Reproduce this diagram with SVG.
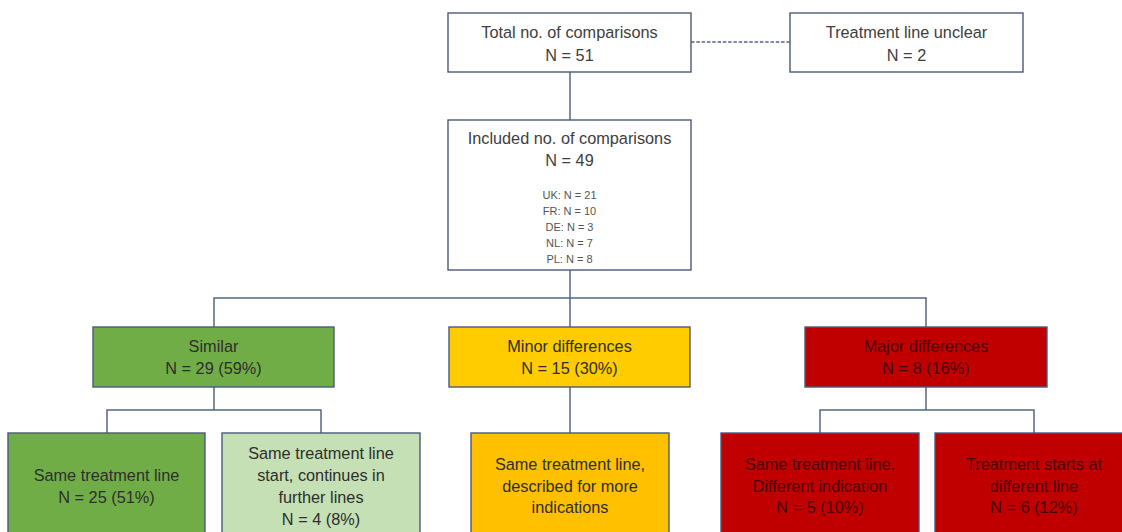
<svg xmlns="http://www.w3.org/2000/svg" width="1122" height="532" viewBox="0 0 1122 532">
<style>
.box{stroke:#4A5A7A;stroke-width:1.4}
.w{fill:#FFFFFF}
.g{fill:#70AD47}
.lg{fill:#C5E0B4}
.y{fill:#FFCC00}
.y2{fill:#FFC000}
.r{fill:#C00000}
text{font-family:"Liberation Sans",Arial,sans-serif;font-size:16.3px;text-anchor:middle;dominant-baseline:central;fill:#404040}
.dk text{fill:#2E2E2E}
.rd text{fill:#4A0000}
.sm{font-size:11px;fill:#555555}
.conn{fill:none;stroke:#56657F;stroke-width:1.5}
</style>
<rect width="1122" height="532" fill="#FFFFFF"/>
<g id="connectors">
<path class="conn" d="M570,72V120"/>
<path class="conn" d="M691,42H790" stroke="#2F4A7A" stroke-dasharray="3.5 1.8"/>
<path class="conn" d="M570,270V298M214,327V298H926V327M570,298V327"/>
<path class="conn" d="M214,387V410M107,433V410H321V433"/>
<path class="conn" d="M570,387V433"/>
<path class="conn" d="M926,387V410M820,433V410H1034V433"/>
</g>
<g id="total">
<rect class="box w" x="448" y="13" width="243" height="59"/>
<text x="569.5" y="32">Total no. of comparisons</text>
<text x="569.5" y="55">N = 51</text>
</g>
<g id="unclear">
<rect class="box w" x="790" y="13" width="233" height="59"/>
<text x="906.5" y="32">Treatment line unclear</text>
<text x="906.5" y="55">N = 2</text>
</g>
<g id="included">
<rect class="box w" x="448" y="120" width="243" height="150"/>
<text x="569.5" y="138">Included no. of comparisons</text>
<text x="569.5" y="160">N = 49</text>
<text class="sm" x="569.5" y="195">UK: N = 21</text>
<text class="sm" x="569.5" y="211">FR: N = 10</text>
<text class="sm" x="569.5" y="227">DE: N = 3</text>
<text class="sm" x="569.5" y="243">NL: N = 7</text>
<text class="sm" x="569.5" y="259">PL: N = 8</text>
</g>
<g id="similar" class="dk">
<rect class="box g" x="93" y="327" width="241" height="60"/>
<text x="213.5" y="346">Similar</text>
<text x="213.5" y="368">N = 29 (59%)</text>
</g>
<g id="minor" class="dk">
<rect class="box y" x="449" y="327" width="241" height="60"/>
<text x="569.5" y="346">Minor differences</text>
<text x="569.5" y="368">N = 15 (30%)</text>
</g>
<g id="major" class="rd">
<rect class="box r" x="805" y="327" width="242" height="60"/>
<text x="926" y="346">Major differences</text>
<text x="926" y="368">N = 8 (16%)</text>
</g>
<g id="same-line" class="dk">
<rect class="box g" x="8" y="433" width="197" height="110"/>
<text x="106.5" y="475">Same treatment line</text>
<text x="106.5" y="497">N = 25 (51%)</text>
</g>
<g id="continues" class="dk">
<rect class="box lg" x="222" y="433" width="198" height="110"/>
<text x="321" y="453">Same treatment line</text>
<text x="321" y="475">start, continues in</text>
<text x="321" y="497">further lines</text>
<text x="321" y="519">N = 4 (8%)</text>
</g>
<g id="more-indications" class="dk">
<rect class="box y2" x="471" y="433" width="198" height="110"/>
<text x="570" y="464">Same treatment line,</text>
<text x="570" y="486">described for more</text>
<text x="570" y="507">indications</text>
</g>
<g id="diff-indication" class="rd">
<rect class="box r" x="721" y="433" width="198" height="110"/>
<text x="820" y="464">Same treatment line,</text>
<text x="820" y="486">Different indication</text>
<text x="820" y="507">N = 5 (10%)</text>
</g>
<g id="diff-line" class="rd">
<rect class="box r" x="935" y="433" width="200" height="110"/>
<text x="1034" y="464">Treatment starts at</text>
<text x="1034" y="486">different line</text>
<text x="1034" y="507">N = 6 (12%)</text>
</g>
</svg>
